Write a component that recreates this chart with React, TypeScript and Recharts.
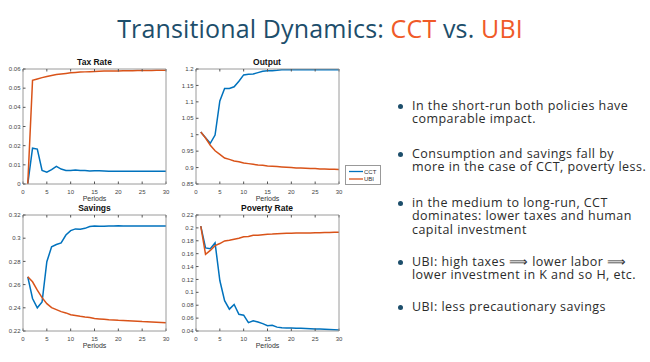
import { LineChart, Line, XAxis, YAxis } from 'recharts'

const periods = [1, 2, 3, 4, 5, 6, 7, 8, 9, 10, 11, 12, 13, 14, 15, 16, 17, 18, 19, 20, 21, 22, 23, 24, 25, 26, 27, 28, 29, 30]
const xTicks = [0, 5, 10, 15, 20, 25, 30]

const taxCCT = [0, 0.0187, 0.0182, 0.0071, 0.0062, 0.0075, 0.0092, 0.0078, 0.0071, 0.0071, 0.0073, 0.0071, 0.007, 0.0068, 0.0069, 0.0069, 0.0068, 0.0067, 0.0067, 0.0067, 0.0067, 0.0067, 0.0066, 0.0066, 0.0066, 0.0066, 0.0066, 0.0066, 0.0066, 0.0066]
const taxUBI = [0, 0.0541, 0.0548, 0.0555, 0.0561, 0.0566, 0.0571, 0.0574, 0.0577, 0.058, 0.0582, 0.0584, 0.0585, 0.0586, 0.0587, 0.0588, 0.0589, 0.0589, 0.059, 0.059, 0.0591, 0.0591, 0.0591, 0.0592, 0.0592, 0.0592, 0.0592, 0.0593, 0.0593, 0.0593]
const taxTicks = [0, 0.01, 0.02, 0.03, 0.04, 0.05, 0.06]

const outCCT = [1.008, 0.991, 0.974, 0.999, 1.103, 1.141, 1.141, 1.146, 1.163, 1.182, 1.184, 1.185, 1.189, 1.193, 1.195, 1.195, 1.196, 1.198, 1.198, 1.198, 1.198, 1.198, 1.198, 1.198, 1.198, 1.198, 1.198, 1.198, 1.198, 1.198]
const outUBI = [1.008, 0.99, 0.968, 0.951, 0.94, 0.929, 0.925, 0.92, 0.918, 0.914, 0.912, 0.91, 0.908, 0.907, 0.905, 0.904, 0.903, 0.902, 0.901, 0.9, 0.899, 0.899, 0.898, 0.897, 0.897, 0.896, 0.896, 0.895, 0.895, 0.894]
const outTicks = [0.85, 0.9, 0.95, 1, 1.05, 1.1, 1.15, 1.2]

const savCCT = [0.2667, 0.248, 0.24, 0.245, 0.2797, 0.2926, 0.2946, 0.296, 0.3027, 0.3065, 0.308, 0.3077, 0.3085, 0.31, 0.3105, 0.3102, 0.3103, 0.3105, 0.3106, 0.3107, 0.3106, 0.3106, 0.3106, 0.3106, 0.3106, 0.3106, 0.3106, 0.3105, 0.3105, 0.3105]
const savUBI = [0.2667, 0.2624, 0.2552, 0.2488, 0.2436, 0.2402, 0.2384, 0.2367, 0.2356, 0.234, 0.2334, 0.2327, 0.2321, 0.2316, 0.2307, 0.2304, 0.2301, 0.2297, 0.2295, 0.2292, 0.229, 0.2288, 0.2286, 0.2284, 0.2281, 0.228, 0.2278, 0.2276, 0.2274, 0.2272]
const savTicks = [0.22, 0.24, 0.26, 0.28, 0.3, 0.32]

const povCCT = [0.2028, 0.1689, 0.1678, 0.1767, 0.1183, 0.087, 0.0739, 0.0812, 0.066, 0.0645, 0.053, 0.0557, 0.054, 0.0514, 0.0483, 0.0489, 0.046, 0.045, 0.0448, 0.0447, 0.0444, 0.0441, 0.0438, 0.0435, 0.0432, 0.043, 0.0428, 0.0425, 0.042, 0.0416]
const povUBI = [0.2028, 0.159, 0.165, 0.1725, 0.1757, 0.1798, 0.1809, 0.1824, 0.184, 0.1861, 0.1865, 0.1887, 0.1885, 0.1895, 0.1903, 0.1905, 0.191, 0.1912, 0.1915, 0.1918, 0.1919, 0.192, 0.1921, 0.1922, 0.1923, 0.1925, 0.1927, 0.1929, 0.1931, 0.1934]
const povTicks = [0.04, 0.06, 0.08, 0.1, 0.12, 0.14, 0.16, 0.18, 0.2, 0.22]

const bullets = [
  ['In the short-run both policies have', 'comparable impact.'],
  ['Consumption and savings fall by', 'more in the case of CCT, poverty less.'],
  ['in the medium to long-run, CCT', 'dominates: lower taxes and human', 'capital investment'],
  ['UBI: high taxes \u27F9 lower labor \u27F9', 'lower investment in K and so H, etc.'],
  ['UBI: less precautionary savings'],
]
const bulletTops = [98.5, 146.5, 195.5, 254.5, 299.5]

const BLUE = '#0072BD'
const ORANGE = '#D95319'
const AXIS = '#9a9a9a'
const TICK = { fontSize: 6, fill: '#444', fontFamily: 'Liberation Sans, Arial' }

function Panel({
  title,
  cct,
  ubi,
  yTicks,
  plotLeft,
  plotTop,
  plotW,
  plotH,
}: {
  title: string
  cct: number[]
  ubi: number[]
  yTicks: number[]
  plotLeft: number
  plotTop: number
  plotW: number
  plotH: number
}) {
  const rows = periods.map((t, i) => ({ t, cct: cct[i], ubi: ubi[i] }))
  const yDomain = [yTicks[0], yTicks[yTicks.length - 1]]
  const yW = 28
  const mTop = 12
  return (
    <>
      <div
        style={{
          position: 'absolute',
          left: plotLeft,
          top: plotTop - 12,
          width: plotW,
          textAlign: 'center',
          fontFamily: 'Liberation Sans, Arial',
          fontWeight: 'bold',
          fontSize: 8.5,
          lineHeight: '10px',
          color: '#111',
        }}
      >
        {title}
      </div>
      <div style={{ position: 'absolute', left: plotLeft - yW, top: plotTop - mTop - 1 }}>
        <LineChart
          width={yW + plotW + 1 + 4}
          height={mTop + 1 + plotH + 20}
          data={rows}
          margin={{ top: mTop, right: 4, bottom: 0, left: 0 }}
        >
          <XAxis
            dataKey="t"
            type="number"
            domain={[0, 30]}
            ticks={xTicks}
            height={20}
            tickSize={-2.5}
            tickMargin={8}
            tick={TICK}
            stroke={AXIS}
            tickLine={{ stroke: '#555' }}
            label={{ value: 'Periods', position: 'insideBottom', offset: 3, fontSize: 7, fill: '#333', fontFamily: 'Liberation Sans, Arial' }}
          />
          <XAxis
            xAxisId="top"
            orientation="top"
            dataKey="t"
            type="number"
            domain={[0, 30]}
            ticks={xTicks}
            height={1}
            tickSize={-2.5}
            tickFormatter={() => ''}
            stroke={AXIS}
            tickLine={{ stroke: '#555' }}
          />
          <YAxis
            type="number"
            domain={yDomain}
            ticks={yTicks}
            width={yW}
            tickSize={-2.5}
            tickMargin={5}
            tick={TICK}
            stroke={AXIS}
            tickLine={{ stroke: '#555' }}
            interval={0}
          />
          <YAxis
            yAxisId="right"
            orientation="right"
            type="number"
            domain={yDomain}
            ticks={yTicks}
            width={1}
            tickSize={-2.5}
            tickFormatter={() => ''}
            stroke={AXIS}
            tickLine={{ stroke: '#555' }}
            interval={0}
          />
          <Line dataKey="cct" stroke={BLUE} strokeWidth={1.5} dot={false} isAnimationActive={false} />
          <Line dataKey="ubi" stroke={ORANGE} strokeWidth={1.5} dot={false} isAnimationActive={false} />
        </LineChart>
      </div>
    </>
  )
}

export default function App() {
  return (
    <div
      style={{
        position: 'fixed',
        left: 0,
        top: 0,
        width: 650,
        height: 362,
        background: '#fff',
        overflow: 'hidden',
      }}
    >
      <div
        style={{
          position: 'absolute',
          left: 0,
          width: 640,
          top: 14,
          textAlign: 'center',
          fontFamily: 'Open Sans, sans-serif',
          fontSize: 25,
          lineHeight: '28px',
          color: '#1d4e6b',
          letterSpacing: 0.15,
        }}
      >
        Transitional Dynamics: <span style={{ color: '#f05a28' }}>CCT</span> vs.{' '}
        <span style={{ color: '#f05a28' }}>UBI</span>
      </div>

      <Panel title="Tax Rate" cct={taxCCT} ubi={taxUBI} yTicks={taxTicks} plotLeft={23} plotTop={69} plotW={143} plotH={115} />
      <Panel title="Output" cct={outCCT} ubi={outUBI} yTicks={outTicks} plotLeft={195.5} plotTop={69} plotW={143} plotH={115} />
      <Panel title="Savings" cct={savCCT} ubi={savUBI} yTicks={savTicks} plotLeft={23} plotTop={215} plotW={143} plotH={116} />
      <Panel title="Poverty Rate" cct={povCCT} ubi={povUBI} yTicks={povTicks} plotLeft={195.5} plotTop={215} plotW={143} plotH={116} />

      <div
        style={{
          position: 'absolute',
          left: 345,
          top: 165,
          width: 34,
          height: 18,
          border: '1px solid #999',
          background: '#fff',
        }}
      >
        <svg width={34} height={18} style={{ display: 'block' }}>
          <line x1={3} x2={17} y1={5.5} y2={5.5} stroke={BLUE} strokeWidth={1.3} />
          <text x={18} y={7.5} fontSize={6} fill="#333" fontFamily="Liberation Sans, Arial">CCT</text>
          <line x1={3} x2={17} y1={13} y2={13} stroke={ORANGE} strokeWidth={1.3} />
          <text x={18} y={15} fontSize={6} fill="#333" fontFamily="Liberation Sans, Arial">UBI</text>
        </svg>
      </div>

      {bullets.map((lines, i) => (
        <div key={i} style={{ position: 'absolute', left: 398, top: bulletTops[i], width: 252 }}>
          <div
            style={{
              position: 'absolute',
              left: 0,
              top: 5,
              width: 5,
              height: 5,
              borderRadius: '50%',
              background: '#1d4e6b',
            }}
          />
          <div
            style={{
              marginLeft: 14,
              fontFamily: 'Open Sans, sans-serif',
              fontSize: 12.5,
              lineHeight: '13.5px',
              letterSpacing: 0.45,
              color: '#2b2b2b',
              whiteSpace: 'nowrap',
            }}
          >
            {lines.map((l, j) => (
              <div key={j}>{l}</div>
            ))}
          </div>
        </div>
      ))}
    </div>
  )
}
